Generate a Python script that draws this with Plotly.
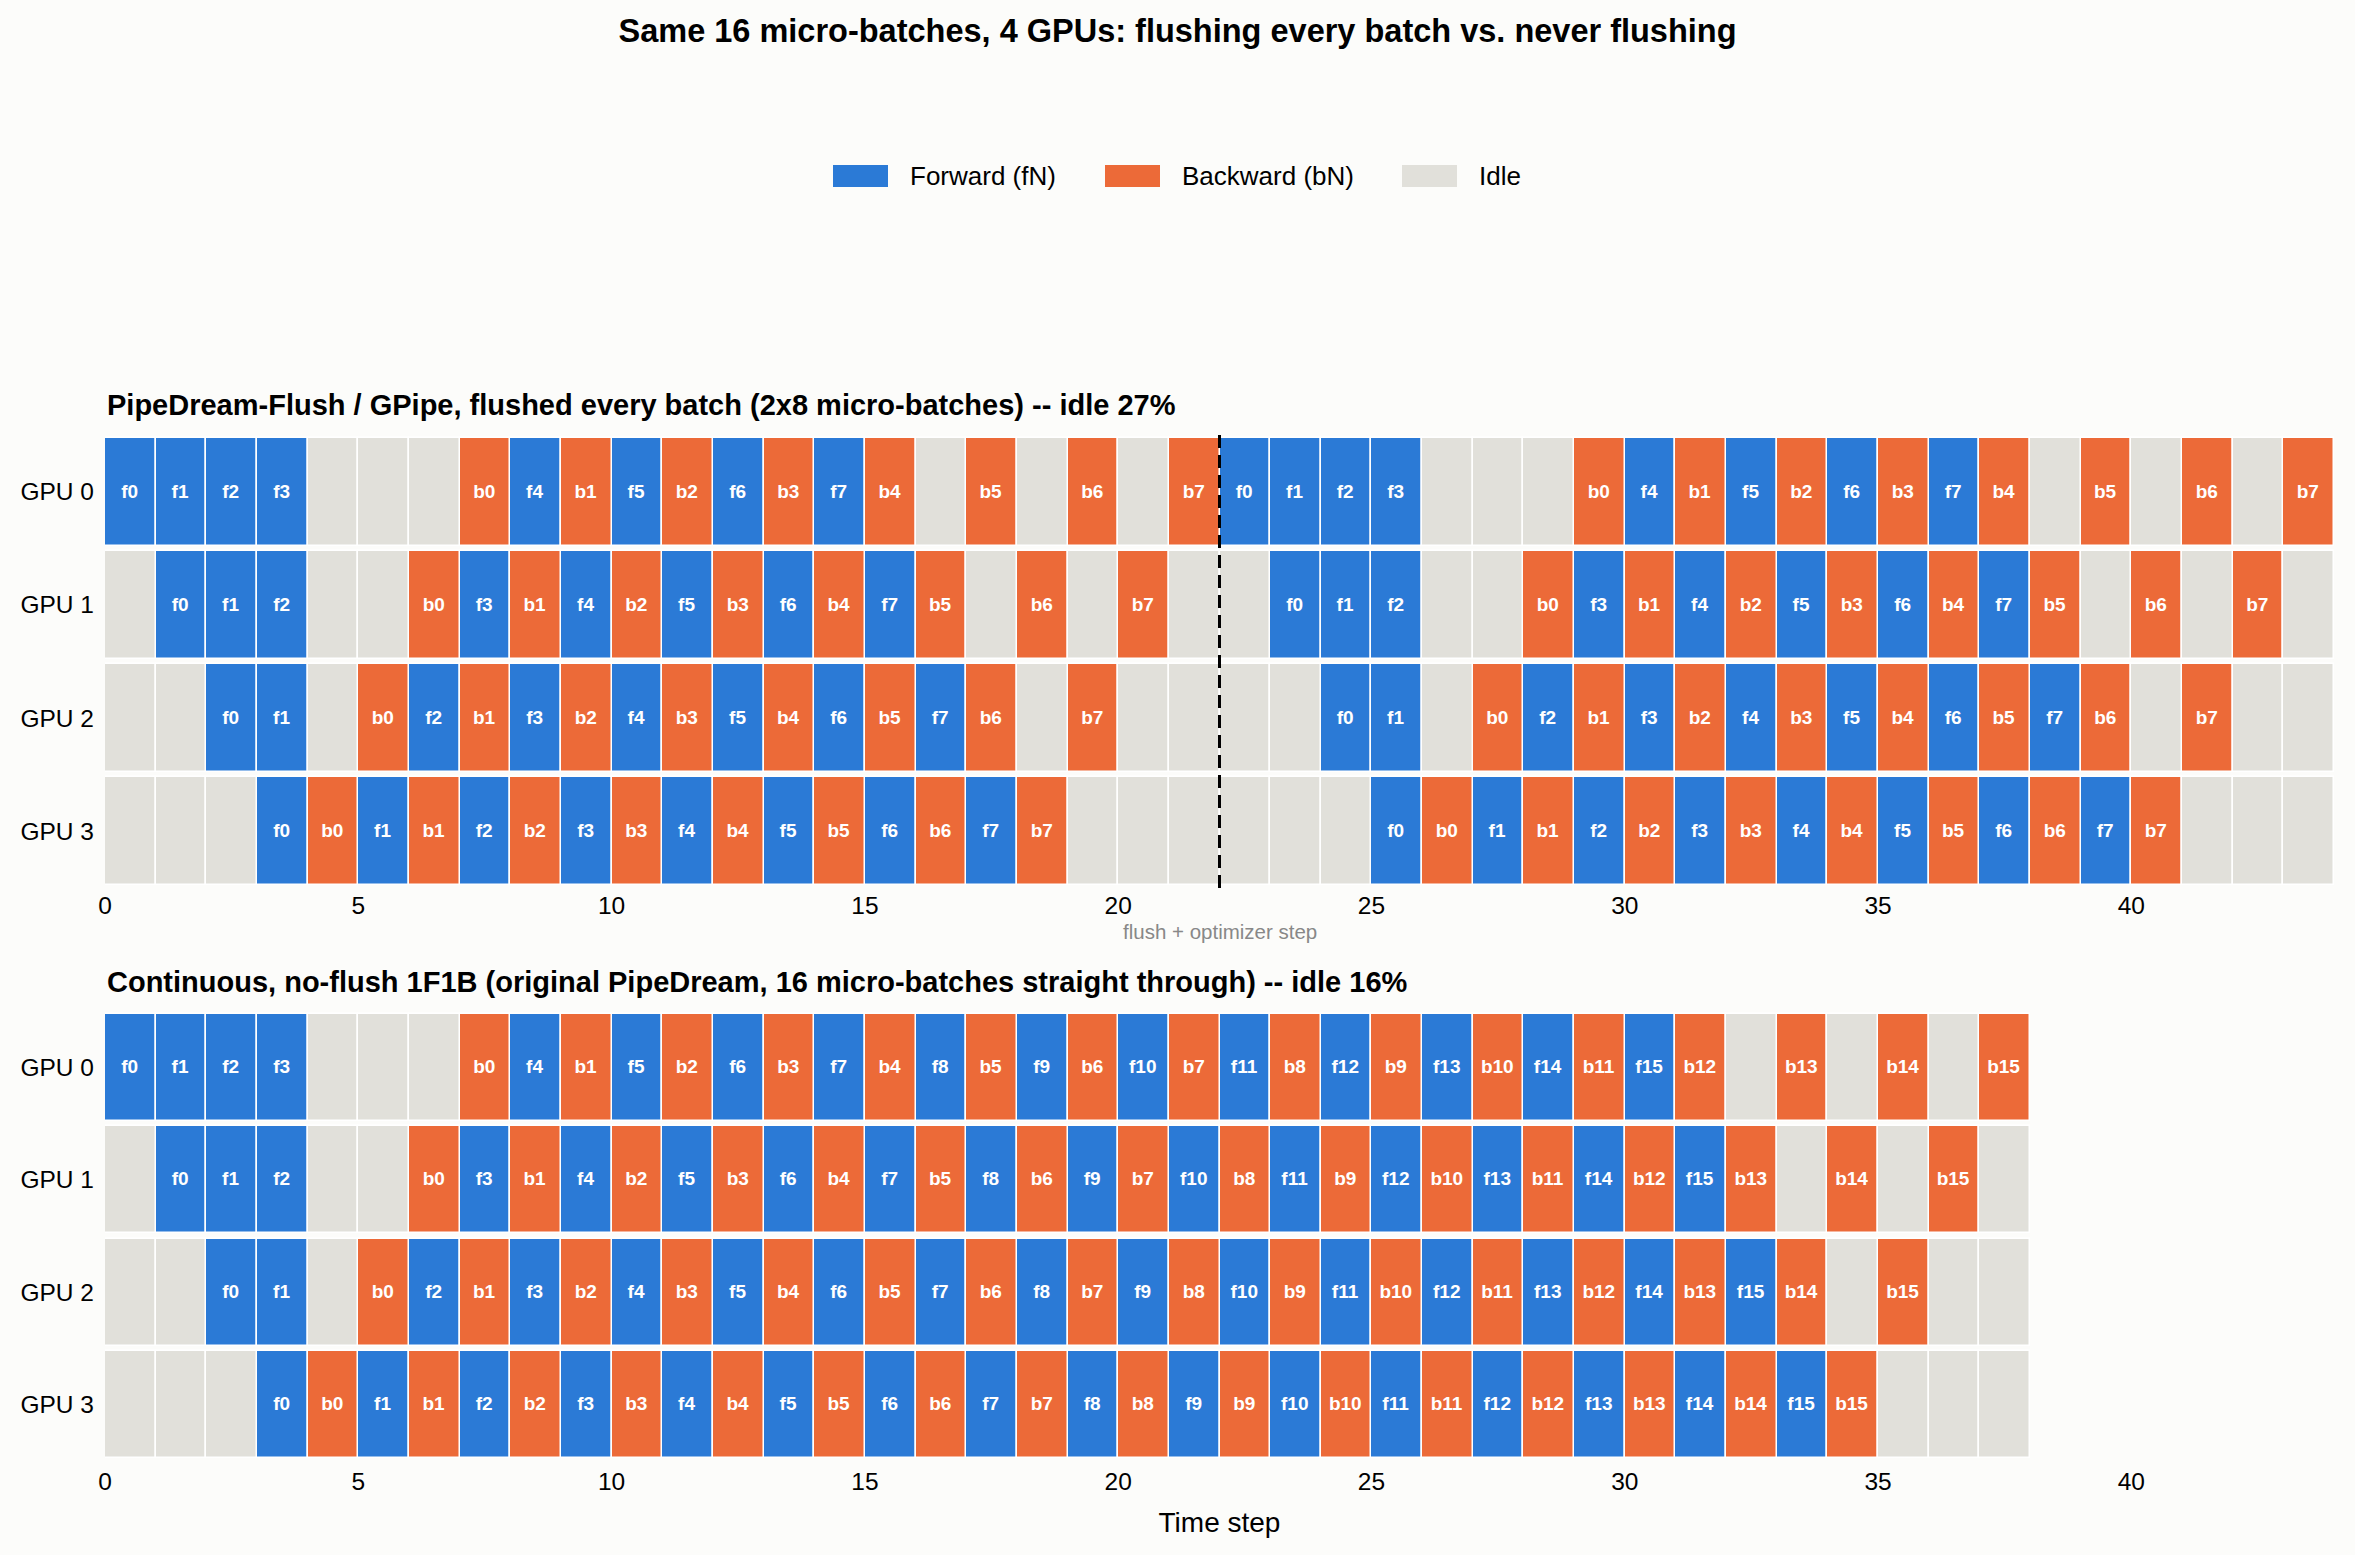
import plotly.graph_objects as go

# ---------------- data ----------------
FIG_TITLE = "Same 16 micro-batches, 4 GPUs: flushing every batch vs. never flushing"
TITLE_FLUSH = "PipeDream-Flush / GPipe, flushed every batch (2x8 micro-batches) -- idle 27%"
TITLE_NOFLUSH = "Continuous, no-flush 1F1B (original PipeDream, 16 micro-batches straight through) -- idle 16%"
GPUS = ["GPU 0", "GPU 1", "GPU 2", "GPU 3"]
X_TICKS = [0, 5, 10, 15, 20, 25, 30, 35, 40]
X_MAX = 44
STEP = 1
FLUSH_AT = 22
FLUSH_LABEL = "flush + optimizer step"
X_TITLE = "Time step"
LEGEND_NAMES = ["Forward (fN)", "Backward (bN)", "Idle"]

# "." marks an idle time step
FLUSH_GPU0 = ("f0 f1 f2 f3 . . . b0 f4 b1 f5 b2 f6 b3 f7 b4 . b5 . b6 . b7 "
              "f0 f1 f2 f3 . . . b0 f4 b1 f5 b2 f6 b3 f7 b4 . b5 . b6 . b7").split()
FLUSH_GPU1 = (". f0 f1 f2 . . b0 f3 b1 f4 b2 f5 b3 f6 b4 f7 b5 . b6 . b7 . "
              ". f0 f1 f2 . . b0 f3 b1 f4 b2 f5 b3 f6 b4 f7 b5 . b6 . b7 .").split()
FLUSH_GPU2 = (". . f0 f1 . b0 f2 b1 f3 b2 f4 b3 f5 b4 f6 b5 f7 b6 . b7 . . "
              ". . f0 f1 . b0 f2 b1 f3 b2 f4 b3 f5 b4 f6 b5 f7 b6 . b7 . .").split()
FLUSH_GPU3 = (". . . f0 b0 f1 b1 f2 b2 f3 b3 f4 b4 f5 b5 f6 b6 f7 b7 . . . "
              ". . . f0 b0 f1 b1 f2 b2 f3 b3 f4 b4 f5 b5 f6 b6 f7 b7 . . .").split()

CONT_GPU0 = ("f0 f1 f2 f3 . . . b0 f4 b1 f5 b2 f6 b3 f7 b4 f8 b5 f9 b6 f10 b7 f11 "
             "b8 f12 b9 f13 b10 f14 b11 f15 b12 . b13 . b14 . b15").split()
CONT_GPU1 = (". f0 f1 f2 . . b0 f3 b1 f4 b2 f5 b3 f6 b4 f7 b5 f8 b6 f9 b7 f10 b8 "
             "f11 b9 f12 b10 f13 b11 f14 b12 f15 b13 . b14 . b15 .").split()
CONT_GPU2 = (". . f0 f1 . b0 f2 b1 f3 b2 f4 b3 f5 b4 f6 b5 f7 b6 f8 b7 f9 b8 f10 "
             "b9 f11 b10 f12 b11 f13 b12 f14 b13 f15 b14 . b15 . .").split()
CONT_GPU3 = (". . . f0 b0 f1 b1 f2 b2 f3 b3 f4 b4 f5 b5 f6 b6 f7 b7 f8 b8 f9 b9 "
             "f10 b10 f11 b11 f12 b12 f13 b13 f14 b14 f15 b15 . . .").split()

FLUSH_SCHEDULE = [FLUSH_GPU0, FLUSH_GPU1, FLUSH_GPU2, FLUSH_GPU3]
CONT_SCHEDULE = [CONT_GPU0, CONT_GPU1, CONT_GPU2, CONT_GPU3]

# ---------------- style ----------------
FONT = "Liberation Sans, Arial, sans-serif"
BG = "#fcfcfa"
C_FWD = "#2b7ad6"
C_BWD = "#ec6a38"
C_IDLE = "#e1e0da"
W, H = 2355, 1555

X_DOM = [105 / W, 2334 / W]
Y1_DOM = [1 - 888 / H, 1 - 435 / H]
Y2_DOM = [1 - 1461 / H, 1 - 1011 / H]

fig = go.Figure()


def add_schedule(schedule, xa, ya):
    groups = {"f": ([], [], []), "b": ([], [], []), ".": ([], [], [])}
    for gpu, ops in zip(GPUS, schedule):
        for t, op in enumerate(ops):
            key = op[0]
            ys, bases, texts = groups[key]
            ys.append(gpu)
            bases.append(t * STEP)
            texts.append("" if key == "." else op)
    for key, color, name in (("f", C_FWD, LEGEND_NAMES[0]),
                             ("b", C_BWD, LEGEND_NAMES[1]),
                             (".", C_IDLE, LEGEND_NAMES[2])):
        ys, bases, texts = groups[key]
        fig.add_trace(go.Bar(
            orientation="h", y=ys, x=[STEP] * len(ys), base=bases,
            width=0.955, name=name, showlegend=False,
            marker=dict(color=color, line=dict(color="white", width=1.5)),
            text=texts, texttemplate="<b>%{text}</b>", textposition="inside",
            insidetextanchor="middle", textangle=0, constraintext="none",
            textfont=dict(color="white", size=19, family=FONT),
            xaxis=xa, yaxis=ya, hoverinfo="skip",
        ))


add_schedule(FLUSH_SCHEDULE, "x", "y")
add_schedule(CONT_SCHEDULE, "x2", "y2")

axis_common = dict(range=[0, X_MAX], tickvals=X_TICKS, showgrid=False, zeroline=False,
                   showline=False, ticks="", automargin=False,
                   tickfont=dict(size=24.5, color="black", family=FONT))
yaxis_common = dict(type="category", categoryorder="array", categoryarray=GPUS,
                    range=[3.5, -0.5], showgrid=False, zeroline=False, showline=False,
                    ticks="", automargin=False,
                    tickfont=dict(size=24.5, color="black", family=FONT),
                    ticklabelstandoff=10)

shapes = [dict(type="line", xref="x", yref="y domain", x0=FLUSH_AT, x1=FLUSH_AT, y0=0, y1=1,
               line=dict(color="black", width=3, dash="13px,7px"), layer="above")]

annotations = [
    dict(text=f"<b>{TITLE_FLUSH}</b>", xref="paper", yref="paper", x=X_DOM[0], y=1 - 405 / H,
         xanchor="left", yanchor="middle", showarrow=False,
         font=dict(size=29, color="black", family=FONT)),
    dict(text=f"<b>{TITLE_NOFLUSH}</b>", xref="paper", yref="paper", x=X_DOM[0], y=1 - 982 / H,
         xanchor="left", yanchor="middle", showarrow=False,
         font=dict(size=29, color="black", family=FONT)),
    dict(text=FLUSH_LABEL, xref="x", yref="paper", x=FLUSH_AT, y=1 - 931 / H,
         xanchor="center", yanchor="middle", showarrow=False,
         font=dict(size=20.5, color="#888888", family=FONT)),
]

# manual legend (wide rectangular swatches)
legend_colors = [C_FWD, C_BWD, C_IDLE]
legend_swatch_x = [833, 1105, 1402]
ly = 176
for name, col, sx in zip(LEGEND_NAMES, legend_colors, legend_swatch_x):
    shapes.append(dict(type="rect", xref="paper", yref="paper",
                       x0=sx / W, x1=(sx + 55) / W, y0=1 - (ly + 11) / H, y1=1 - (ly - 11) / H,
                       fillcolor=col, line=dict(width=0)))
    annotations.append(dict(text=name, xref="paper", yref="paper", x=(sx + 75) / W, y=1 - ly / H,
                            xanchor="left", yanchor="middle", showarrow=False,
                            font=dict(size=26, color="black", family=FONT)))

fig.update_layout(
    width=W, height=H,
    margin=dict(l=0, r=0, t=0, b=0),
    paper_bgcolor=BG, plot_bgcolor=BG,
    barmode="overlay", bargap=0,
    showlegend=False,
    title=dict(text=f"<b>{FIG_TITLE}</b>", x=0.5, xanchor="center", y=1 - 31 / H,
               yanchor="middle", font=dict(size=32.5, color="black", family=FONT)),
    xaxis=dict(domain=X_DOM, anchor="y", ticklabelstandoff=0, **axis_common),
    yaxis=dict(domain=Y1_DOM, anchor="x", **yaxis_common),
    xaxis2=dict(domain=X_DOM, anchor="y2", ticklabelstandoff=3,
                title=dict(text=X_TITLE, standoff=18,
                           font=dict(size=28, color="black", family=FONT)), **axis_common),
    yaxis2=dict(domain=Y2_DOM, anchor="x2", **yaxis_common),
    shapes=shapes,
    annotations=annotations,
    font=dict(family=FONT, color="black"),
)

fig.write_html("out.html")
